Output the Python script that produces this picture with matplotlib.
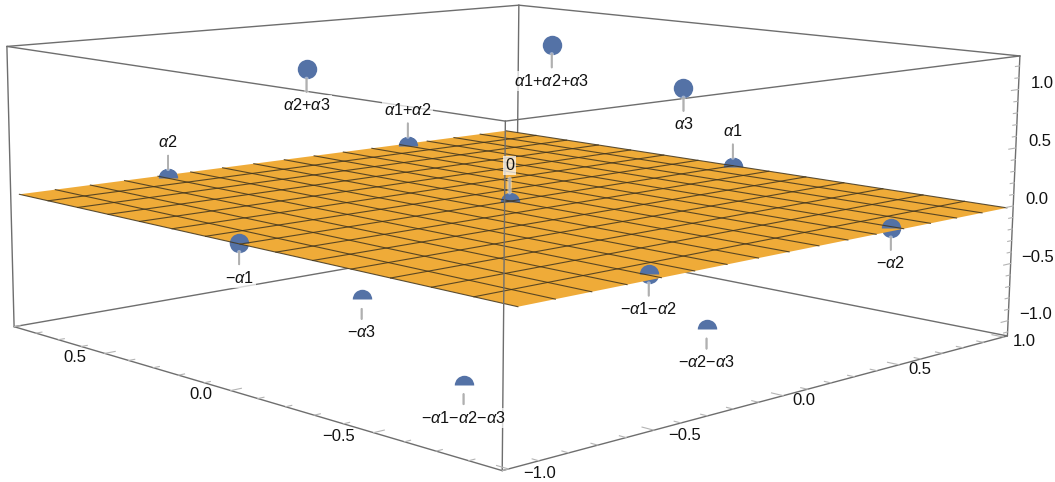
import numpy as np
import matplotlib
matplotlib.use('Agg')
import matplotlib.pyplot as plt
import matplotlib.patheffects as pe
from mpl_toolkits.mplot3d import proj3d

plt.rcParams['font.family'] = ['Liberation Sans', 'DejaVu Sans']
plt.rcParams['mathtext.fontset'] = 'custom'
plt.rcParams['mathtext.rm'] = 'Liberation Sans'
plt.rcParams['mathtext.it'] = 'Liberation Sans:italic'
plt.rcParams['mathtext.default'] = 'regular'

# Box limits (the first axis runs front to right, the second front to left)
x_range = (-1.02, 1.02)
y_range = (-0.9, 0.9)
z_range = (-1.135, 1.285)

# Plane and its mesh
plane_x = [-0.98, 0.98]
plane_y = [-0.905, 0.915]
mesh_x = np.linspace(-0.98, 0.98, 17)
mesh_y = np.linspace(-0.905, 0.915, 15)[1:-1]

# Points on the plane
mid_names = ['a2', 'a1+a2', '0', 'a1', '-a1', '-a2', '-a1-a2']
mid_x = [-0.49, 0.49, -0.01, 0.96, -0.97, 0.47, -0.48]
mid_y = [0.87, 0.88, 0.0, -0.01, 0.02, -0.88, -0.86]
mid_z = [0, 0, 0, 0, 0, 0, 0]
mid_up = [True, True, True, True, False, False, False]

# Points above the plane
top_names = ['a3', 'a1+a2+a3', 'a2+a3']
top_x = [0.31, 0.84, -0.21]
top_y = [-0.33, 0.60, 0.59]
top_z = [1, 1, 1]

# Points below the plane
low_names = ['-a3', '-a2-a3', '-a1-a2-a3']
low_x = [-0.17, 0.29, -0.655]
low_y = [0.41, -0.44, -0.44]
low_z = [-1, -1, -1]

# Ticks
x_ticks = np.round(np.arange(-1.0, 1.01, 0.1), 1)
y_ticks = np.round(np.arange(-0.9, 0.91, 0.1), 1)
z_ticks = np.round(np.arange(-1.1, 1.21, 0.1), 1)
x_labels = [-1.0, -0.5, 0.0, 0.5, 1.0]
y_labels = [-0.5, 0.0, 0.5]
z_labels = [-1.0, -0.5, 0.0, 0.5, 1.0]

W, H = 1055, 482
ORANGE = '#EFAB38'
BLUE = '#5472A6'
EDGE = '#6e6e6e'
TICK = '#b4b4b4'
LEADER = '#b0b0b0'
MESH = '#40351f'

fig = plt.figure(figsize=(W / 100, H / 100), dpi=100)
# Camera was fitted to the box corners of the reference
S = 1000
cx, cy = 498.64, 206.14
ax = fig.add_axes([(cx - S / 2) / W, (H - cy - S / 2) / H, S / W, S / H], projection='3d')
ax.computed_zorder = False
ax.set_xlim(*x_range)
ax.set_ylim(*y_range)
ax.set_zlim(*z_range)
ax.view_init(9.633, -134.69, -0.544)
ax.set_proj_type('persp', focal_length=0.4476)
ax.set_box_aspect((1.0127, 1, 0.4031), zoom=1.0121)
ax.set_axis_off()

x0, x1 = x_range
y0, y1 = y_range
z0, z1 = z_range


def edge(a, b, zorder):
    ax.plot([a[0], b[0]], [a[1], b[1]], [a[2], b[2]], color=EDGE, lw=1.0, zorder=zorder, solid_capstyle='round')


# Box edges behind the plane
edge((x1, y1, z0), (x1, y1, z1), 1)
edge((x0, y1, z0), (x1, y1, z0), 1)
edge((x1, y0, z0), (x1, y1, z0), 1)
edge((x0, y1, z1), (x1, y1, z1), 1)
edge((x1, y1, z1), (x1, y0, z1), 1)
edge((x0, y1, z0), (x0, y1, z1), 1)

# Points on the plane go under it, their upper half comes back on top
ax.plot(mid_x, mid_y, mid_z, 'o', ms=14, mew=0, color=BLUE, zorder=2)

px, py = np.meshgrid(plane_x, plane_y)
ax.plot_surface(px, py, np.zeros_like(px), color=ORANGE, shade=False, linewidth=0, antialiased=True, zorder=3)

ax.plot(mid_x, mid_y, mid_z, 'o', ms=14, mew=0, color=BLUE, fillstyle='top', markerfacecoloralt='none', zorder=4)

for v in mesh_x:
    ax.plot([v, v], plane_y, [0, 0], color=MESH, lw=0.8, alpha=0.85, zorder=5)
for v in mesh_y:
    ax.plot(plane_x, [v, v], [0, 0], color=MESH, lw=0.8, alpha=0.85, zorder=5)

# Box edges in front of the plane
edge((x0, y0, z0), (x0, y0, z1), 6)
edge((x0, y0, z1), (x0, y1, z1), 6)
edge((x0, y0, z1), (x1, y0, z1), 6)
edge((x0, y0, z0), (x0, y1, z0), 6)
edge((x0, y0, z0), (x1, y0, z0), 6)
edge((x1, y0, z0), (x1, y0, z1), 6)

# Tick marks
for t in x_ticks:
    n = 0.035 if t in x_labels else 0.02
    ax.plot([t, t], [y0, y0 + n], [z0, z0], color=TICK, lw=0.8, zorder=6)
for t in y_ticks:
    n = 0.035 if t in y_labels else 0.02
    ax.plot([x0, x0 + n], [t, t], [z0, z0], color=TICK, lw=0.8, zorder=6)
for t in z_ticks:
    n = 0.035 if t in z_labels else 0.02
    ax.plot([x1, x1 - n], [y0, y0], [t, t], color=TICK, lw=0.8, zorder=6)

# Points off the plane
ax.plot(top_x, top_y, top_z, 'o', ms=14, mew=0, color=BLUE, zorder=7)
ax.plot(low_x, low_y, low_z, 'o', ms=14, mew=0, color=BLUE, fillstyle='top', markerfacecoloralt='none', zorder=7)

M = ax.get_proj()


def to_2d(x, y, z):
    u, v, _ = proj3d.proj_transform(x, y, z, M)
    return u, v


def nice(name):
    # a1-a2 -> italic alpha with upright digits and a real minus
    return name.replace('-', '\u2212').replace('a', r'$\mathit{\alpha}$')


def callout(name, x, y, z, dy):
    ax.annotate(
        nice(name), xy=to_2d(x, y, z), xytext=(0, dy), textcoords='offset pixels',
        ha='center', va='center', fontsize=11.7, color='#111111', zorder=9, annotation_clip=False,
        bbox=dict(boxstyle='square,pad=0.12', fc='white', ec='none', alpha=0.72),
        arrowprops=dict(
            arrowstyle='-', color=LEADER, lw=1.3, shrinkA=2.5, shrinkB=6.8,
            path_effects=[pe.withStroke(linewidth=3.2, foreground='white', alpha=0.45), pe.Normal()],
        ),
    )


for name, x, y, z, up in zip(mid_names, mid_x, mid_y, mid_z, mid_up):
    callout(name, x, y, z, 36 if up else -35)
for name, x, y, z in zip(top_names, top_x, top_y, top_z):
    callout(name, x, y, z, -36)
for name, x, y, z in zip(low_names, low_x, low_y, low_z):
    callout(name, x, y, z, -33)


def tick_label(v, x, y, z, dx, dy, extra):
    txt = f'{v:.1f}'.replace('-', '\u2212')
    ax.annotate(
        txt, xy=to_2d(x, y, z), xytext=(dx + (extra if v < 0 else 0), dy), textcoords='offset pixels',
        ha='center', va='center', fontsize=12, color='#111111', zorder=8, annotation_clip=False,
    )


for v in x_labels:
    tick_label(v, v, y0, z0, 21, -5, 10)
for v in y_labels:
    tick_label(v, x0, v, z0, -30, -4, -5)
for v in z_labels:
    tick_label(v, x1, y0, v, 24, 6, 3)

# the axes box is narrower than the drawing on the right
for art in ax.get_children():
    art.set_clip_on(False)

fig.savefig('out.png', dpi=100)
